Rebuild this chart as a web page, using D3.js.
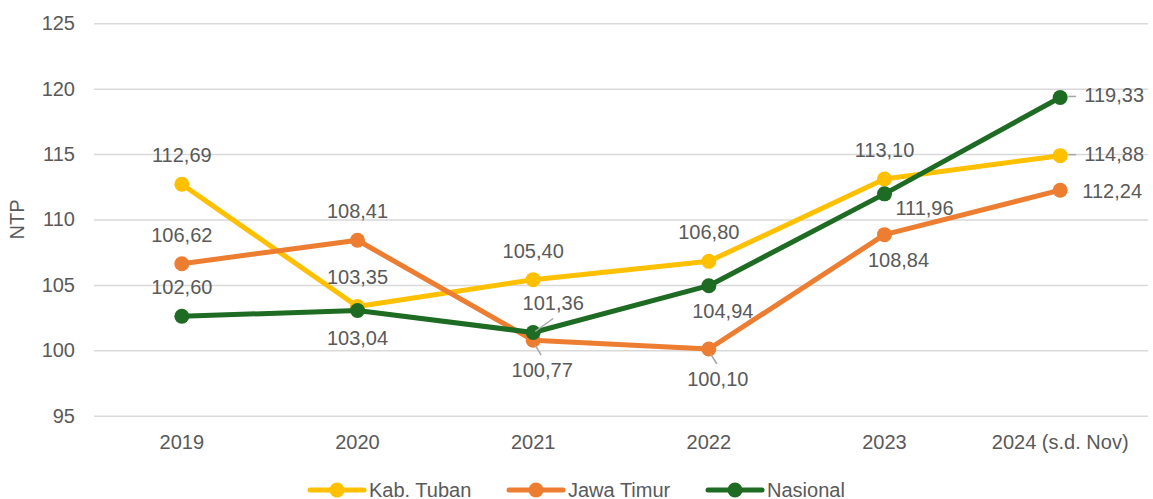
<!DOCTYPE html>
<html>
<head>
<meta charset="utf-8">
<script src="https://cdn.jsdelivr.net/npm/d3@7"></script>
<style>
  body { margin: 0; background: #fff; }
  svg text { font-family: "Liberation Sans", Arial, sans-serif; fill: #595959; }
</style>
</head>
<body>
<svg id="chart" width="1153" height="499"></svg>
<script>
// data
var years = ["2019", "2020", "2021", "2022", "2023", "2024 (s.d. Nov)"];
var tuban = [112.69, 103.35, 105.40, 106.80, 113.10, 114.88];
var jatim = [106.62, 108.41, 100.77, 100.10, 108.84, 112.24];
var nasional = [102.60, 103.04, 101.36, 104.94, 111.96, 119.33];
var seriesNames = ["Kab. Tuban", "Jawa Timur", "Nasional"];
var yTicks = [95, 100, 105, 110, 115, 120, 125];

// where each value label sits, relative to its point
var tubanLabelPos = ["above", "above", "above", "above", "above", "rightLead"];
var jatimLabelPos = ["above", "above", "belowLead", "belowLead", "belowRight", "right"];
var nasionalLabelPos = ["above", "below", "aboveRightLead", "belowRight", "rightBelow", "rightLead"];

var colors = ["#FFC000", "#ED7D31", "#1E6B23"];

var series = [
  { name: seriesNames[0], values: tuban, pos: tubanLabelPos, color: colors[0] },
  { name: seriesNames[1], values: jatim, pos: jatimLabelPos, color: colors[1] },
  { name: seriesNames[2], values: nasional, pos: nasionalLabelPos, color: colors[2] }
];

var svg = d3.select("#chart");
var plotLeft = 94, plotRight = 1148, plotTop = 23.3, plotBottom = 415.7;

var x = d3.scaleBand().domain(years).range([plotLeft, plotRight]).paddingInner(0).paddingOuter(0);
var cx = function (d) { return x(d) + x.bandwidth() / 2; };
var y = d3.scaleLinear().domain([95, 125]).range([plotBottom, plotTop]);

// y axis + gridlines
var yAxis = svg.append("g")
  .attr("transform", "translate(" + plotLeft + ",0)")
  .call(d3.axisLeft(y).tickValues(yTicks).tickSize(-(plotRight - plotLeft)).tickPadding(19));
yAxis.select(".domain").remove();
yAxis.selectAll("line").attr("stroke", "#d9d9d9").attr("stroke-width", 1.5);
yAxis.selectAll("text").style("font-size", "20px").attr("fill", "#595959");

// x axis
var xAxis = svg.append("g")
  .attr("transform", "translate(0," + plotBottom + ")")
  .call(d3.axisBottom(x).tickSize(0).tickPadding(19));
xAxis.select(".domain").remove();
xAxis.selectAll("text").style("font-size", "20px").attr("fill", "#595959");

// y title
svg.append("text")
  .attr("transform", "translate(24," + ((plotTop + plotBottom) / 2) + ") rotate(-90)")
  .attr("text-anchor", "middle")
  .style("font-size", "20px")
  .text("NTP");

// lines
var line = d3.line()
  .x(function (d, i) { return cx(years[i]); })
  .y(function (d) { return y(d); });

series.forEach(function (s) {
  var g = svg.append("g");
  g.append("path")
    .datum(s.values)
    .attr("d", line)
    .attr("fill", "none")
    .attr("stroke", s.color)
    .attr("stroke-width", 5)
    .attr("stroke-linejoin", "round");
  g.selectAll("circle")
    .data(s.values)
    .enter().append("circle")
    .attr("cx", function (d, i) { return cx(years[i]); })
    .attr("cy", function (d) { return y(d); })
    .attr("r", 7.5)
    .attr("fill", s.color);
});

// value labels
var offsets = {
  above: { dx: 0, dy: -29 },
  below: { dx: 0, dy: 27 },
  right: { dx: 52, dy: 1 },
  rightLead: { dx: 54, dy: -2, lead: [[8, -1], [16, -1]] },
  belowLead: { dx: 9, dy: 30, lead: [[2, 5], [8, 15]] },
  aboveRightLead: { dx: 20, dy: -30, lead: [[2, -1], [20, -14]] },
  belowRight: { dx: 14, dy: 25 },
  rightBelow: { dx: 40, dy: 14 }
};

var fmt = function (v) { return v.toFixed(2).replace(".", ","); };

series.forEach(function (s) {
  s.values.forEach(function (v, i) {
    var px = cx(years[i]), py = y(v);
    var o = offsets[s.pos[i]];
    if (o.lead) {
      svg.append("line")
        .attr("x1", px + o.lead[0][0]).attr("y1", py + o.lead[0][1])
        .attr("x2", px + o.lead[1][0]).attr("y2", py + o.lead[1][1])
        .attr("stroke", "#a6a6a6").attr("stroke-width", 1.5);
    }
    svg.append("text")
      .attr("x", px + o.dx)
      .attr("y", py + o.dy)
      .attr("dy", "0.35em")
      .attr("text-anchor", "middle")
      .style("font-size", "20px")
      .text(fmt(v));
  });
});

// legend
var legendX = [310, 509, 708];
var legendY = 490;
var lg = svg.append("g").selectAll("g")
  .data(series)
  .enter().append("g")
  .attr("transform", function (d, i) { return "translate(" + legendX[i] + "," + legendY + ")"; });
lg.append("line")
  .attr("x1", 0).attr("x2", 54).attr("y1", 0).attr("y2", 0)
  .attr("stroke", function (d) { return d.color; })
  .attr("stroke-width", 5).attr("stroke-linecap", "round");
lg.append("circle")
  .attr("cx", 27).attr("cy", 0).attr("r", 7.5)
  .attr("fill", function (d) { return d.color; });
lg.append("text")
  .attr("x", 59).attr("y", 0).attr("dy", "0.35em")
  .style("font-size", "20px")
  .text(function (d) { return d.name; });
</script>
</body>
</html>
